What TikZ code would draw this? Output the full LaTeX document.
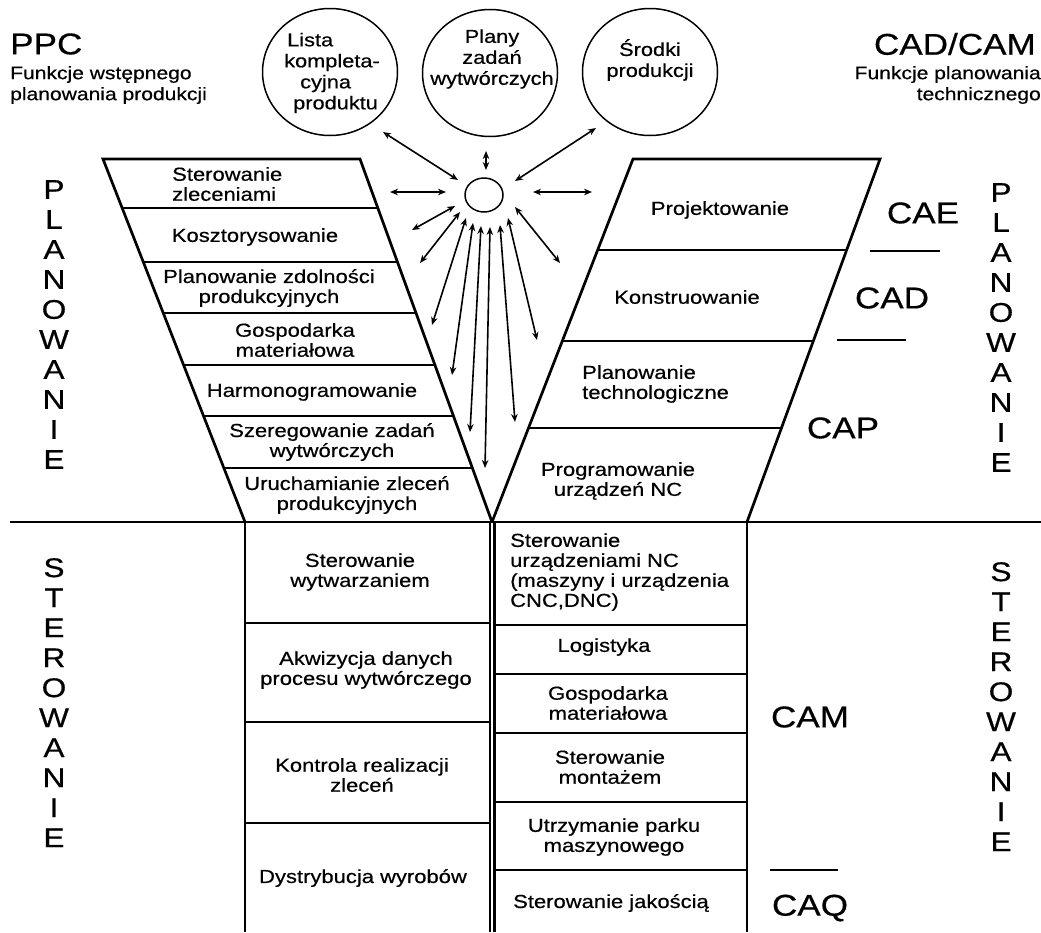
\documentclass[tikz,border=0pt]{standalone}
\usepackage{fontspec}
\setmainfont[FakeStretch=1.17,FakeBold=0.5]{Liberation Sans}
\usetikzlibrary{arrows.meta,shapes.geometric}
\begin{document}
\begin{tikzpicture}[x=1pt,y=-1pt,
  thickline/.style={line width=2.7pt},
  thinline/.style={line width=1.5pt},
  txt/.style={font=\fontsize{18.8}{20}\selectfont, align=center, inner sep=0pt},
  smalltxt/.style={font=\fontsize{18}{21}\selectfont, inner sep=0pt},
  circtxt/.style={font=\fontsize{18.6}{21}\selectfont, inner sep=0pt},
  big/.style={font=\fontsize{30}{30}\selectfont, inner sep=0pt},
  stack/.style={font=\fontsize{27}{30}\selectfont, align=center, inner sep=0pt, anchor=north},
  circ/.style={ellipse, draw, line width=1.5pt, minimum width=135pt, minimum height=127pt, inner sep=0pt},
  dbl/.style={{Stealth[length=8pt,width=6.5pt]}-{Stealth[length=8pt,width=6.5pt]}, line width=1.6pt},
]
\path[use as bounding box] (0,0) rectangle (1041,932);

% ---------- top titles ----------
\node[big, anchor=west] (ppc) at (10,44) {PPC};
\node[smalltxt, anchor=west, align=left] (ppcsub) at (10,85) {Funkcje wstępnego\\planowania produkcji};
\node[big, anchor=east] (cadcam) at (1036,44) {CAD/CAM};
\node[smalltxt, anchor=east, align=right] (cadcamsub) at (1041,85) {Funkcje planowania\\technicznego};

% ---------- circles ----------
\node[circ] (lista) at (330,72) {};
\node[circtxt, anchor=west, align=left] (listaT) at (284,73) {\hspace*{3pt}Lista\\kompleta-\\\hspace*{16pt}cyjna\\\hspace*{9pt}produktu};
\node[circ] (plany) at (490,73) {};
\node[circtxt, align=center] (planyT) at (492,59) {Plany\\zadań\\wytwórczych};
\node[circ] (srodki) at (650,72) {};
\node[circtxt, align=center] (srodkiT) at (650,60) {Środki\\produkcji};

% ---------- hub ----------
\node[ellipse, draw, line width=1.5pt, minimum width=38pt, minimum height=34pt, inner sep=0pt] (hub) at (484,195) {};

% ---------- arrows ----------
\coordinate (a1s) at (383,132);  \coordinate (a1e) at (458,180);
\coordinate (a2s) at (486,151);  \coordinate (a2e) at (486,170);
\coordinate (a3s) at (596,128);  \coordinate (a3e) at (515,181);
\coordinate (a4s) at (390,192);  \coordinate (a4e) at (446,192);
\coordinate (a5s) at (533,192);  \coordinate (a5e) at (592,192);
\coordinate (a6s) at (455,206);  \coordinate (a6e) at (412,230);
\coordinate (a7s) at (460,212);  \coordinate (a7e) at (420,263);
\coordinate (a8s) at (466,218);  \coordinate (a8e) at (432,325);
\coordinate (a9s) at (473,223);  \coordinate (a9e) at (452,375);
\coordinate (a10s) at (481,226); \coordinate (a10e) at (470,432);
\coordinate (a11s) at (490,227); \coordinate (a11e) at (485,468);
\coordinate (a12s) at (500,225); \coordinate (a12e) at (515,422);
\coordinate (a13s) at (508,218); \coordinate (a13e) at (537,340);
\coordinate (a14s) at (515,207); \coordinate (a14e) at (560,263);
\foreach \i in {1,...,14} {\draw[dbl] (a\i s) -- (a\i e);}

% ---------- left funnel ----------
\coordinate (lTL) at (103,159); \coordinate (lTR) at (360,159);
\coordinate (lBL) at (245,522); \coordinate (vtip) at (492,522);
\draw[thickline] (lBL) -- (lTL) -- (lTR) -- (vtip);
\foreach \y in {208,262,313,365,416,468} {
  \pgfmathsetmacro{\xa}{103+(\y-159)/363*142}
  \pgfmathsetmacro{\xb}{360+(\y-159)/363*132}
  \draw[thinline] (\xa,\y) -- (\xb,\y);
}
\node[txt, anchor=west, align=left] (l1) at (172,184) {Sterowanie\\zleceniami};
\node[txt] (l2) at (255,237) {Kosztorysowanie};
\node[txt] (l3) at (269,288) {Planowanie zdolności\\produkcyjnych};
\node[txt] (l4) at (295,340) {Gospodarka\\materiałowa};
\node[txt] (l5) at (312,392) {Harmonogramowanie};
\node[txt] (l6) at (332,442) {Szeregowanie zadań\\wytwórczych};
\node[txt] (l7) at (347,495) {Uruchamianie zleceń\\produkcyjnych};

% ---------- right funnel ----------
\coordinate (rTL) at (633,159); \coordinate (rTR) at (880,159);
\coordinate (rBR) at (747,522);
\draw[thickline] (vtip) -- (rTL) -- (rTR) -- (rBR);
\foreach \y in {250,341,428} {
  \pgfmathsetmacro{\xa}{633-(\y-159)/363*141}
  \pgfmathsetmacro{\xb}{880-(\y-159)/363*133}
  \draw[thinline] (\xa,\y) -- (\xb,\y);
}
\node[txt] (r1) at (720,210) {Projektowanie};
\node[txt] (r2) at (687,297) {Konstruowanie};
\node[txt, anchor=west, align=left] (r3) at (582,384) {Planowanie\\technologiczne};
\node[txt] (r4) at (618,481) {Programowanie\\urządzeń NC};

% ---------- CA* labels ----------
\node[big] (cae) at (923,213) {CAE};
\draw[thinline] (870,251) -- (940,251);
\node[big] (cad) at (892,298) {CAD};
\draw[thinline] (837,340) -- (906,340);
\node[big] (cap) at (843,428) {CAP};
\node[big] (cam) at (810,717) {CAM};
\draw[thinline] (770,870) -- (838,870);
\node[big] (caq) at (810,908) {CAQ};

% ---------- main divider and lower columns ----------
\draw[thickline] (10,522) -- (1041,522);
\draw[thickline] (245,522) -- (245,932);
\draw[line width=2.2pt] (490,522) -- (490,932);
\draw[line width=2.2pt] (494.5,522) -- (494.5,932);
\draw[thickline] (747,522) -- (747,932);
\foreach \y in {623,722,823} {\draw[thinline] (245,\y) -- (490,\y);}
\foreach \y in {625,674,733,802,870} {\draw[thinline] (494.5,\y) -- (747,\y);}

\node[txt] (b1) at (360,572) {Sterowanie\\wytwarzaniem};
\node[txt] (b2) at (366,670) {Akwizycja danych\\procesu wytwórczego};
\node[txt] (b3) at (362,775) {Kontrola realizacji\\zleceń};
\node[txt] (b4) at (363,878) {Dystrybucja wyrobów};

\node[txt, anchor=west, align=left] (c1) at (510,572) {Sterowanie\\urządzeniami NC\\(maszyny i urządzenia\\CNC,DNC)};
\node[txt] (c2) at (604,647) {Logistyka};
\node[txt] (c3) at (608,703) {Gospodarka\\materiałowa};
\node[txt] (c4) at (610,767) {Sterowanie\\montażem};
\node[txt] (c5) at (614,837) {Utrzymanie parku\\maszynowego};
\node[txt] (c6) at (611,903) {Sterowanie jakością};

% ---------- vertical words ----------
\node[stack] (plL) at (54,180) {P\\L\\A\\N\\O\\W\\A\\N\\I\\E};
\node[stack] (plR) at (1001,183) {P\\L\\A\\N\\O\\W\\A\\N\\I\\E};
\node[stack] (stL) at (54,558) {S\\T\\E\\R\\O\\W\\A\\N\\I\\E};
\node[stack] (stR) at (1001,562) {S\\T\\E\\R\\O\\W\\A\\N\\I\\E};
\end{tikzpicture}
\end{document}
